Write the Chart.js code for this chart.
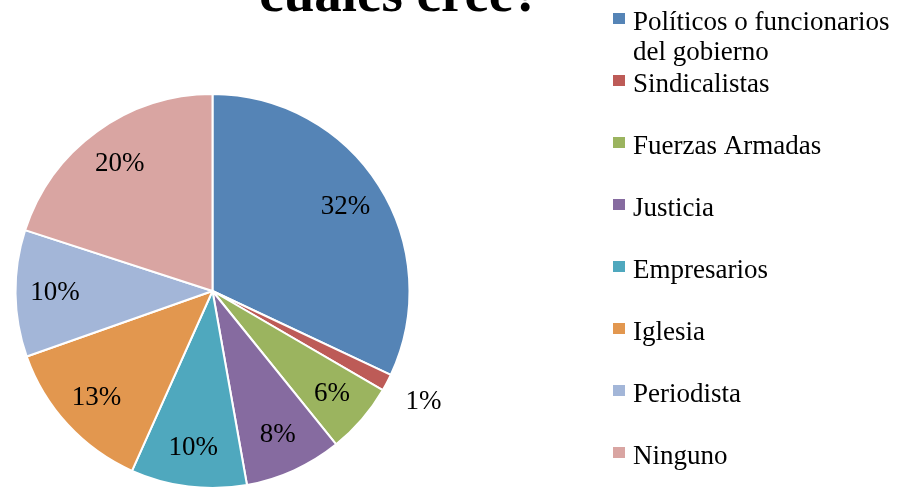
<!DOCTYPE html>
<html lang="es">
<head>
  <meta charset="UTF-8">
  <title>¿En cuáles cree?</title>
  <script src="https://cdn.jsdelivr.net/npm/chart.js"></script>
  <style>
    html, body {
      margin: 0;
      padding: 0;
      background: #fff;
      overflow: hidden;
    }
    #wrap {
      position: relative;
      width: 906px;
      height: 493px;
    }
  </style>
</head>
<body>
  <div id="wrap">
    <canvas id="pieChart" width="906" height="493"></canvas>
  </div>

  <script>
    const titleText = "cuáles cree?";
    const categories = [
      "Políticos o funcionarios del gobierno",
      "Sindicalistas",
      "Fuerzas Armadas",
      "Justicia",
      "Empresarios",
      "Iglesia",
      "Periodista",
      "Ninguno"
    ];
    const shares = [32.0, 1.4, 5.8, 8.0, 9.5, 12.9, 10.4, 20.0];
    const colors = ["#5584B6", "#BD5B57", "#9BB45F", "#866BA0", "#4FA8BE", "#E2974F", "#A3B6D8", "#D9A5A2"];

    const serif = "'Liberation Serif', 'Times New Roman', serif";

    // percentage labels on (or just outside) each slice
    const sliceLabels = {
      id: "sliceLabels",
      afterDatasetsDraw(chart) {
        const ctx = chart.ctx;
        const arcs = chart.getDatasetMeta(0).data;
        ctx.save();
        ctx.font = "27px " + serif;
        ctx.fillStyle = "#000";
        ctx.textAlign = "center";
        ctx.textBaseline = "middle";
        arcs.forEach((arc, i) => {
          const p = arc.getProps(["x", "y", "startAngle", "endAngle", "outerRadius"], true);
          const mid = (p.startAngle + p.endAngle) / 2;
          const small = shares[i] < 3;
          const d = p.outerRadius * (small ? 1.21 : 0.8);
          ctx.fillText(Math.round(shares[i]) + "%", p.x + Math.cos(mid) * d, p.y + Math.sin(mid) * d);
        });
        ctx.restore();
      }
    };

    // title (cut off at the top, as in the original) and right-hand legend
    const sideText = {
      id: "sideText",
      afterDraw(chart) {
        const ctx = chart.ctx;
        ctx.save();
        ctx.fillStyle = "#000";
        ctx.font = "bold 55px " + serif;
        ctx.textAlign = "center";
        ctx.textBaseline = "alphabetic";
        ctx.fillText(titleText, 400, 11);

        const boxX = 613, textX = 633, maxW = 906 - textX;
        ctx.font = "27px " + serif;
        ctx.textAlign = "left";
        categories.forEach((label, i) => {
          const cy = 18.5 + i * 62;
          ctx.fillStyle = colors[i];
          ctx.fillRect(boxX, cy - 5.5, 12, 11);
          ctx.fillStyle = "#000";
          // wrap long labels
          const words = label.split(" ");
          const lines = [];
          let line = "";
          words.forEach(w => {
            const test = line ? line + " " + w : w;
            if (line && ctx.measureText(test).width > maxW) {
              lines.push(line);
              line = w;
            } else {
              line = test;
            }
          });
          lines.push(line);
          lines.forEach((l, j) => ctx.fillText(l, textX, cy + 11.5 + j * 30));
        });
        ctx.restore();
      }
    };

    const ctx = document.getElementById("pieChart").getContext("2d");
    new Chart(ctx, {
      type: "pie",
      data: {
        labels: categories,
        datasets: [{
          data: shares,
          backgroundColor: colors,
          borderColor: "#fff",
          borderWidth: 2
        }]
      },
      options: {
        responsive: false,
        animation: false,
        layout: {
          padding: { left: 14, top: 93, right: 495, bottom: 4 }
        },
        plugins: {
          legend: { display: false },
          tooltip: { enabled: false }
        }
      },
      plugins: [sliceLabels, sideText]
    });
  </script>
</body>
</html>
